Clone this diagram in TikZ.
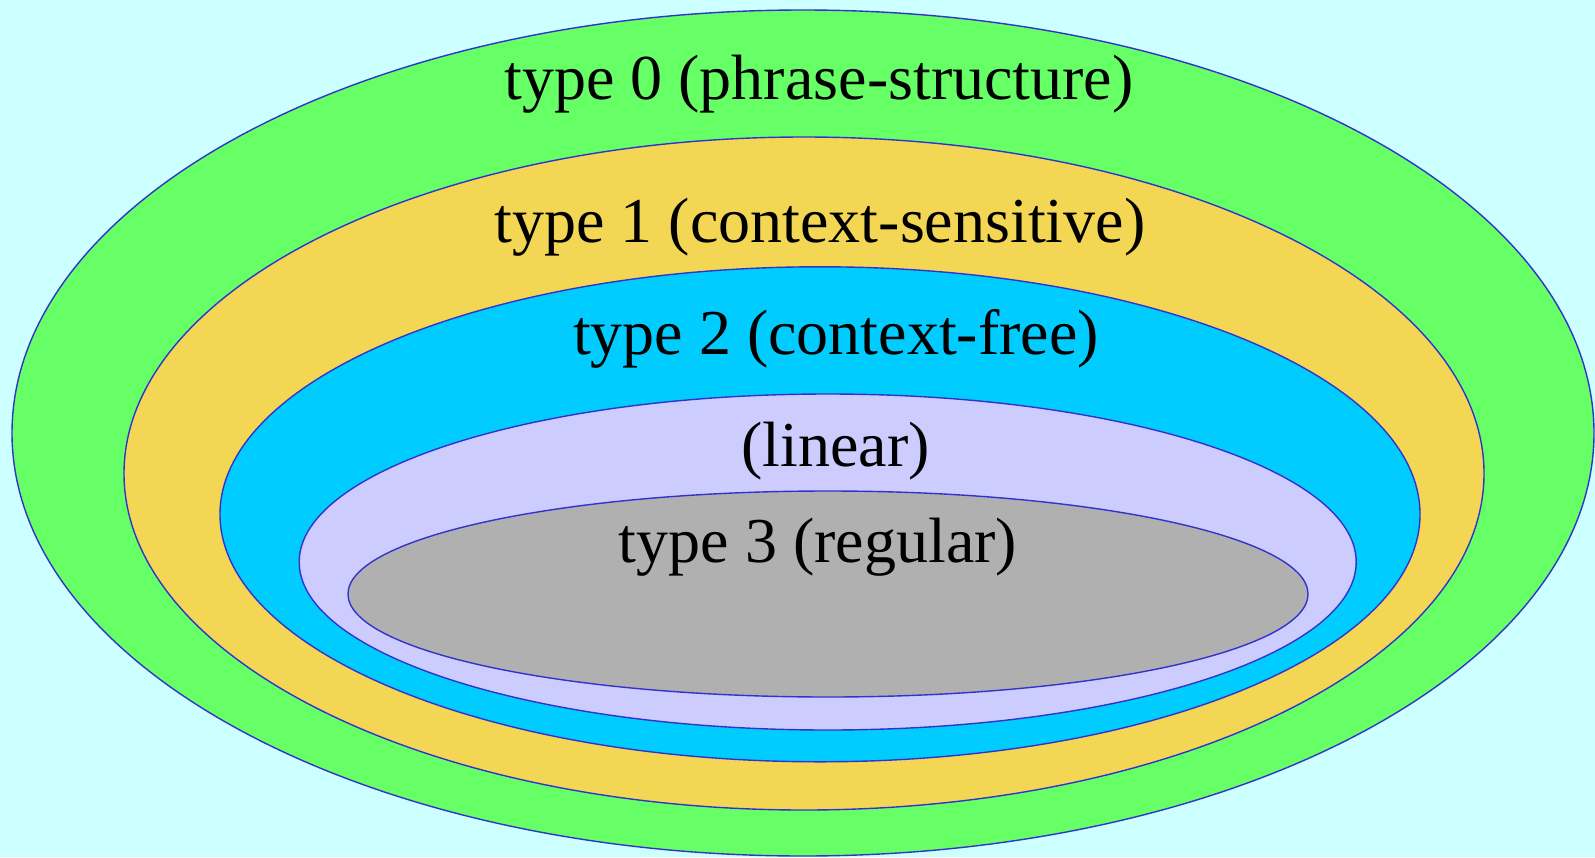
\documentclass[tikz,border=0pt]{standalone}
\usepackage{fontspec}
\setmainfont{Liberation Serif}
\usetikzlibrary{shapes.geometric}

\definecolor{bgcyan}{HTML}{CCFFFF}
\definecolor{lvzero}{HTML}{66FF66}
\definecolor{lvone}{HTML}{F3D654}
\definecolor{lvtwo}{HTML}{00CCFF}
\definecolor{lvlin}{HTML}{CCCCFF}
\definecolor{lvthree}{HTML}{B0B0B0}
\definecolor{rim}{HTML}{3333CC}

\tikzset{
  region/.style={ellipse, draw=rim, line width=1.4pt, inner sep=0pt},
  classlabel/.style={anchor=base, inner sep=0pt, font=\fontsize{64}{70}\selectfont}
}

\begin{document}
\begin{tikzpicture}[x=1pt, y=-1pt]
  \useasboundingbox (0,0) rectangle (1595,857);
  \fill[bgcyan] (0,0) rectangle (1595,857);

  % nested language classes, outermost first
  \node[region, fill=lvzero,  minimum width=1582pt, minimum height=846pt] (c0)  at (803,433) {};
  \node[region, fill=lvone,   minimum width=1360pt, minimum height=673pt] (c1)  at (804,473.5) {};
  \node[region, fill=lvtwo,   minimum width=1200pt, minimum height=495pt] (c2)  at (820,514.3) {};
  \node[region, fill=lvlin,   minimum width=1057pt, minimum height=336pt] (cl)  at (827.7,562) {};
  \node[region, fill=lvthree, minimum width=960pt,  minimum height=206pt] (c3)  at (828,594) {};

  % class names
  \node[classlabel] (l0) at (819,99)    {type 0 (phrase-structure)};
  \node[classlabel] (l1) at (820,242)   {type 1 (context-sensitive)};
  \node[classlabel] (l2) at (836,354)   {type 2 (context-free)};
  \node[classlabel] (ll) at (835.5,466.5) {(linear)};
  \node[classlabel] (l3) at (818,562)   {type 3 (regular)};
\end{tikzpicture}
\end{document}
